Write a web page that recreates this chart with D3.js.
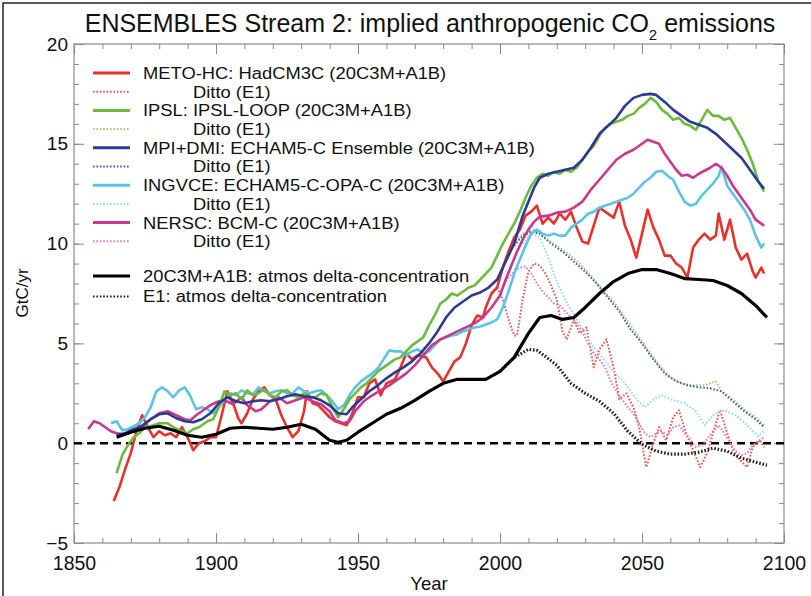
<!DOCTYPE html>
<html>
<head>
<meta charset="utf-8">
<script src="https://cdn.jsdelivr.net/npm/d3@7"></script>
<style>
  body { margin: 0; background: #fff; }
  svg text { font-family: "Liberation Sans", Arial, Helvetica, sans-serif; fill: #111; }
</style>
</head>
<body>
<div id="chart"></div>
<script>
// values: [year, GtC/yr]
const metoA1B = [[1864,-2.9],[1866,-2.2],[1868,-1.3],[1870,-0.5],[1872,0.6],[1874,1.4],[1876,0.8],[1878,0.3],[1880,0.6],[1882,0.4],[1884,0.5],[1886,0.3],[1888,0.8],[1890,0.3],[1892,-0.35],[1894,0.0],[1896,0.1],[1898,0.3],[1900,0.3],[1902,1.4],[1904,2.6],[1906,2.0],[1908,1.2],[1909,1.0],[1911,1.5],[1913,2.2],[1915,2.6],[1917,2.8],[1919,2.4],[1921,2.2],[1923,1.4],[1925,0.8],[1927,0.3],[1929,0.6],[1931,1.6],[1932,2.6],[1934,2.0],[1936,1.9],[1938,1.6],[1940,1.3],[1942,1.1],[1944,1.0],[1946,0.9],[1948,1.5],[1950,2.3],[1952,2.3],[1954,3.0],[1956,3.2],[1958,2.4],[1960,3.0],[1963,3.2],[1965,3.8],[1967,4.5],[1969,4.2],[1971,4.4],[1974,4.3],[1976,3.8],[1978,3.5],[1980,3.1],[1982,3.6],[1984,4.1],[1986,4.3],[1988,5.0],[1990,5.9],[1992,6.4],[1994,6.3],[1995,6.8],[1997,7.5],[1999,7.8],[2001,8.8],[2003,9.6],[2005,10.3],[2007,10.7],[2009,11.4],[2011,11.6],[2013,11.9],[2015,11.0],[2017,11.3],[2019,11.0],[2021,11.5],[2023,11.2],[2025,11.6],[2027,10.8],[2029,10.1],[2031,10.0],[2033,10.9],[2035,11.8],[2037,11.6],[2040,11.3],[2042,12.1],[2044,10.9],[2046,10.2],[2048,9.3],[2050,10.5],[2052,11.7],[2054,10.8],[2056,10.2],[2058,9.4],[2060,9.4],[2062,9.0],[2064,8.8],[2066,8.3],[2068,9.8],[2070,10.2],[2072,10.5],[2074,10.2],[2076,10.4],[2077,11.5],[2079,10.2],[2081,11.2],[2083,9.8],[2085,9.2],[2087,9.5],[2089,8.6],[2090,8.3],[2092,8.8],[2093,8.5]];
const metoE1 = [[1999,7.8],[2001,7.2],[2003,6.2],[2005,5.4],[2006,5.4],[2008,7.2],[2010,8.6],[2012,9.0],[2014,8.9],[2016,8.5],[2018,7.9],[2020,7.2],[2022,5.6],[2023.5,5.2],[2026,6.2],[2028,5.5],[2030.5,5.8],[2033,3.8],[2035,4.7],[2037.5,5.2],[2040,3.8],[2042,2.2],[2044.5,2.5],[2047,1.8],[2049,0.8],[2051.5,-1.2],[2054,0.0],[2056,0.8],[2058.5,0.15],[2061,1.3],[2063,1.65],[2065.5,0.5],[2068,-0.35],[2070.5,-1.2],[2073,-0.5],[2075,0.5],[2077.5,1.65],[2080,0.5],[2082,-0.35],[2084.5,-0.85],[2087,-1.2],[2089,-0.2],[2091.5,0.15],[2093,-0.2]];
const ipslA1B = [[1865,-1.5],[1867,-0.6],[1869,-0.1],[1871,0.3],[1873,0.5],[1875,0.8],[1878,0.9],[1880,1.0],[1883,1.0],[1885,0.8],[1887,0.65],[1890,0.5],[1892,0.7],[1894,0.8],[1897,1.1],[1899,1.2],[1901,1.8],[1903,2.6],[1905,2.4],[1907,2.5],[1909,2.2],[1911,2.65],[1913,2.4],[1915,2.5],[1917,2.7],[1919,2.4],[1921,2.3],[1923,2.6],[1925,2.65],[1927,2.4],[1929,2.3],[1931,2.5],[1933,2.3],[1935,2.3],[1937,2.5],[1939,2.4],[1941,1.8],[1943,1.3],[1945,1.7],[1947,2.2],[1949,2.5],[1951,2.8],[1953,3.0],[1955,3.3],[1957,3.6],[1959,3.8],[1961,4.0],[1963,4.2],[1965,4.3],[1967,4.6],[1969,4.9],[1971,5.1],[1973,5.3],[1975,5.9],[1977,6.4],[1979,7.0],[1981,7.2],[1983,7.5],[1985,7.4],[1987,7.6],[1989,7.8],[1991,7.9],[1993,8.2],[1995,8.5],[1997,8.8],[1999,9.4],[2001,10.0],[2003,10.5],[2005,11.0],[2007,11.6],[2009,12.3],[2011,12.9],[2013,13.3],[2015,13.5],[2017,13.4],[2019,13.6],[2021,13.5],[2023,13.7],[2025,13.6],[2027,13.8],[2029,14.2],[2031,14.6],[2033,14.9],[2035,15.4],[2037,15.8],[2039,16.0],[2041,16.1],[2043,16.2],[2045,16.4],[2047,16.5],[2049,16.8],[2051,17.0],[2053,17.3],[2055,17.1],[2057,16.7],[2059,16.5],[2061,16.2],[2063,16.3],[2065,16.0],[2067,15.9],[2069,15.7],[2071,16.2],[2073,16.7],[2075,16.4],[2077,16.4],[2079,16.2],[2081,16.3],[2083,15.8],[2085,15.3],[2087,14.7],[2089,14.0],[2091,13.1],[2093,12.6]];
const ipslE1 = [[2004,9.9],[2008,10.5],[2012,10.7],[2016,10.3],[2020,9.9],[2024,9.5],[2028,9.0],[2032,8.4],[2036,7.7],[2040,7.1],[2044,6.3],[2048,5.5],[2052,4.7],[2056,3.9],[2060,3.3],[2064,3.0],[2068,2.9],[2072,2.9],[2076,3.1],[2078,2.6],[2082,2.2],[2086,1.7],[2090,1.3],[2093,0.9]];
const mpiA1B = [[1865,0.4],[1868,0.5],[1871,0.7],[1874,0.85],[1877,1.2],[1880,1.45],[1883,1.5],[1886,1.25],[1889,1.1],[1892,1.05],[1895,1.2],[1898,1.5],[1901,2.0],[1904,2.3],[1907,2.1],[1910,2.0],[1913,2.1],[1916,2.15],[1919,2.1],[1922,2.2],[1925,2.35],[1928,2.45],[1931,2.35],[1934,2.3],[1937,2.15],[1940,1.9],[1943,1.5],[1946,1.45],[1948,1.8],[1951,2.2],[1954,2.6],[1957,2.9],[1960,3.25],[1963,3.55],[1966,3.8],[1969,4.1],[1972,4.5],[1975,5.0],[1978,5.6],[1981,6.3],[1984,6.8],[1987,7.1],[1990,7.4],[1993,7.55],[1996,7.8],[1999,8.2],[2002,9.1],[2005,10.0],[2008,11.4],[2010,12.1],[2012,12.8],[2014,13.3],[2017,13.5],[2020,13.6],[2023,13.7],[2026,13.8],[2029,14.2],[2032,14.8],[2035,15.5],[2038,15.9],[2041,16.3],[2044,16.9],[2047,17.3],[2050,17.45],[2053,17.5],[2055,17.45],[2058,17.1],[2061,16.7],[2064,16.4],[2067,16.1],[2070,15.95],[2073,15.8],[2076,15.5],[2079,15.1],[2082,14.7],[2085,14.3],[2088,13.7],[2091,13.1],[2093,12.75]];
const mpiE1 = [[2005,9.9],[2008,10.4],[2011,10.6],[2014,10.5],[2018,10.0],[2022,9.6],[2026,9.1],[2030,8.6],[2034,8.0],[2038,7.3],[2042,6.6],[2046,5.7],[2050,5.0],[2054,4.2],[2058,3.5],[2062,3.1],[2066,2.9],[2070,2.8],[2074,2.75],[2078,2.6],[2082,2.1],[2086,1.6],[2090,1.2],[2093,0.8]];
const ingvA1B = [[1863,1.0],[1865,1.1],[1867,0.65],[1869,0.7],[1871,0.85],[1873,1.0],[1875,1.3],[1877,1.8],[1879,2.6],[1881,2.8],[1883,2.6],[1885,2.3],[1887,2.65],[1889,2.8],[1891,2.35],[1893,1.7],[1895,1.8],[1897,1.7],[1899,1.5],[1901,1.8],[1903,2.15],[1905,2.5],[1907,2.4],[1909,2.65],[1911,2.5],[1913,2.45],[1915,2.8],[1917,2.6],[1919,2.5],[1921,2.6],[1923,2.65],[1925,2.5],[1927,2.5],[1929,2.8],[1931,2.6],[1933,2.5],[1935,2.6],[1937,2.65],[1939,2.4],[1941,2.1],[1943,1.7],[1945,1.9],[1947,2.4],[1949,2.8],[1951,3.1],[1953,3.3],[1955,3.5],[1957,3.75],[1959,4.2],[1961,4.65],[1963,4.6],[1965,4.6],[1967,4.4],[1969,4.6],[1971,4.7],[1973,4.5],[1975,4.6],[1977,4.9],[1979,5.2],[1981,5.3],[1983,5.4],[1985,5.45],[1987,5.6],[1989,5.7],[1991,5.8],[1993,5.85],[1995,5.95],[1997,6.05],[1999,6.2],[2001,6.8],[2003,7.6],[2005,8.5],[2007,9.2],[2009,9.9],[2011,10.5],[2013,10.7],[2015,10.5],[2017,10.4],[2019,10.5],[2021,10.4],[2023,10.4],[2025,10.8],[2027,11.0],[2029,11.2],[2031,11.5],[2033,11.6],[2035,11.8],[2037,11.9],[2039,12.0],[2041,12.1],[2043,12.2],[2045,12.3],[2047,12.5],[2049,12.8],[2051,13.1],[2053,13.3],[2055,13.6],[2057,13.65],[2059,13.4],[2061,13.2],[2063,12.6],[2065,12.1],[2067,11.9],[2069,12.0],[2071,12.4],[2073,12.7],[2075,13.0],[2077,13.4],[2078,13.85],[2080,12.9],[2082,12.5],[2084,12.1],[2086,11.7],[2088,11.2],[2090,10.4],[2092,9.8],[2093,10.0]];
const ingvE1 = [[2008,10.0],[2011,10.5],[2014,10.3],[2017,9.3],[2020,8.1],[2024,6.9],[2028,6.0],[2032,5.0],[2036,4.3],[2040,3.6],[2044,3.0],[2048,2.2],[2051,1.8],[2054,2.2],[2057,2.4],[2061,2.15],[2065,2.0],[2069,1.6],[2072,0.9],[2075,1.4],[2079,1.65],[2083,1.4],[2087,0.9],[2091,0.35],[2093,0.6]];
const nerscA1B = [[1855,0.7],[1857,1.1],[1859,1.0],[1861,0.8],[1863,0.6],[1865,0.5],[1868,0.45],[1871,0.6],[1874,0.9],[1877,1.2],[1880,1.5],[1883,1.6],[1886,1.4],[1889,1.2],[1891,1.15],[1893,1.4],[1895,1.6],[1898,1.9],[1901,2.1],[1903,2.15],[1906,1.95],[1909,2.3],[1911,1.9],[1914,1.6],[1916,1.7],[1919,2.1],[1922,2.3],[1925,2.0],[1928,2.15],[1931,2.3],[1934,2.1],[1937,1.95],[1940,1.6],[1942,1.15],[1945,1.0],[1947,1.1],[1949,1.6],[1952,2.1],[1955,2.4],[1958,2.65],[1961,2.9],[1964,3.2],[1967,3.5],[1970,3.9],[1973,4.4],[1976,4.9],[1979,5.2],[1982,5.4],[1985,5.6],[1988,5.8],[1991,6.0],[1994,6.3],[1997,6.8],[2000,7.4],[2002,8.2],[2004,8.9],[2006,9.6],[2008,10.2],[2010,10.7],[2012,11.1],[2014,11.35],[2017,11.4],[2020,11.55],[2023,11.6],[2026,11.8],[2029,12.1],[2032,12.7],[2035,13.2],[2038,13.7],[2041,14.2],[2044,14.5],[2047,14.7],[2050,15.0],[2052,15.2],[2054,15.1],[2056,15.0],[2058,14.5],[2060,14.1],[2062,13.7],[2064,13.4],[2066,13.45],[2068,13.3],[2070,13.5],[2072,13.65],[2074,13.8],[2076,14.0],[2078,13.8],[2080,13.4],[2082,12.9],[2084,12.5],[2086,12.1],[2088,11.7],[2090,11.2],[2092,11.0],[2093,10.9]];
const nerscE1 = [[2001,7.8],[2003,8.3],[2005,8.6],[2007,8.8],[2009,8.85],[2011,8.5],[2013,8.0],[2015,7.6],[2017,7.3],[2019,7.0],[2021,6.9],[2023,6.6],[2025,6.3],[2027,6.0],[2029,5.6],[2031,5.0],[2033,4.5],[2035,4.2],[2037,3.8],[2039,3.1],[2041,2.6],[2043,2.2],[2045,1.8],[2047,1.5],[2049,1.0],[2051,0.5],[2053,0.3],[2055,0.5],[2057,0.6],[2059,0.4],[2061,0.8],[2063,0.9],[2065,0.5],[2067,0.2],[2069,-0.2],[2071,-0.1],[2073,0.2],[2075,0.6],[2077,0.9],[2079,0.5],[2081,0.0],[2083,-0.4],[2085,-0.6],[2087,-0.5],[2089,-0.1],[2091,0.1],[2093,0.3]];
const atmosA1B = [[1865,0.3],[1870,0.55],[1875,0.75],[1880,0.85],[1885,0.65],[1890,0.4],[1895,0.3],[1900,0.45],[1905,0.75],[1910,0.8],[1915,0.75],[1920,0.7],[1925,0.8],[1930,0.95],[1935,0.7],[1940,0.15],[1943,0.05],[1946,0.15],[1950,0.55],[1955,1.0],[1960,1.45],[1965,1.75],[1970,2.15],[1975,2.6],[1980,3.0],[1985,3.2],[1990,3.2],[1995,3.2],[2000,3.6],[2005,4.3],[2010,5.5],[2014,6.3],[2018,6.4],[2022,6.2],[2026,6.3],[2030,6.8],[2035,7.5],[2040,8.1],[2045,8.5],[2050,8.7],[2055,8.7],[2060,8.5],[2065,8.25],[2070,8.2],[2075,8.15],[2080,7.9],[2085,7.5],[2090,6.9],[2094,6.3]];
const atmosE1 = [[2000,3.6],[2005,4.3],[2010,4.7],[2013,4.65],[2016,4.35],[2020,3.9],[2025,3.0],[2030,2.5],[2035,2.1],[2040,1.5],[2045,0.6],[2050,-0.05],[2055,-0.4],[2060,-0.55],[2065,-0.55],[2070,-0.45],[2075,-0.25],[2080,-0.4],[2085,-0.75],[2090,-0.95],[2094,-1.1]];

const xTicks = [1850, 1900, 1950, 2000, 2050, 2100];
const yTicks = [-5, 0, 5, 10, 15, 20];

const legendLabels = [
  "METO-HC: HadCM3C (20C3M+A1B)", "Ditto (E1)",
  "IPSL: IPSL-LOOP (20C3M+A1B)", "Ditto (E1)",
  "MPI+DMI: ECHAM5-C Ensemble (20C3M+A1B)", "Ditto (E1)",
  "INGVCE: ECHAM5-C-OPA-C (20C3M+A1B)", "Ditto (E1)",
  "NERSC: BCM-C (20C3M+A1B)", "Ditto (E1)",
  "20C3M+A1B: atmos delta-concentration", "E1: atmos delta-concentration"
];

const series = [
  {data: metoA1B,  color: "#e5322b", dotted: false},
  {data: metoE1,   color: "#e8564f", dotted: true},
  {data: ipslA1B,  color: "#6cbb3c", dotted: false},
  {data: ipslE1,   color: "#9ed07a", dotted: true},
  {data: mpiA1B,   color: "#2b3a94", dotted: false},
  {data: mpiE1,    color: "#4c5aa8", dotted: true},
  {data: ingvA1B,  color: "#5cc3e6", dotted: false},
  {data: ingvE1,   color: "#9ad8ef", dotted: true},
  {data: nerscA1B, color: "#c8388f", dotted: false},
  {data: nerscE1,  color: "#e27bb5", dotted: true},
  {data: atmosA1B, color: "#000000", dotted: false},
  {data: atmosE1,  color: "#222222", dotted: true}
];

const W = 811, H = 596;
const plot = {left: 74, right: 784, top: 44, bottom: 543};

const x = d3.scaleLinear().domain([1850, 2100]).range([plot.left, plot.right]);
const y = d3.scaleLinear().domain([-5, 20]).range([plot.bottom, plot.top]);

const svg = d3.select("#chart").append("svg")
  .attr("width", W).attr("height", H);

svg.append("rect").attr("width", W).attr("height", H).attr("fill", "#fff");

// outer picture border (left/top visible)
svg.append("rect")
  .attr("x", 3).attr("y", 3).attr("width", 900).attr("height", 700)
  .attr("fill", "none").attr("stroke", "#222").attr("stroke-width", 1.5);

// title
const title = svg.append("text")
  .attr("x", 430).attr("y", 32)
  .attr("text-anchor", "middle")
  .style("font-size", "25px");
title.append("tspan").text("ENSEMBLES Stream 2: implied anthropogenic CO");
title.append("tspan").text("2").style("font-size", "15px").attr("dy", 8);
title.append("tspan").text(" emissions").attr("dy", -8);

// axes
const gray = "#8a8a8a";
const minorX = d3.range(1850, 2101, 10);
const minorY = d3.range(-5, 21, 1);

function styleAxis(g, size) {
  g.select(".domain").remove();
  g.selectAll(".tick line").attr("stroke", gray);
  g.selectAll(".tick text").style("font-size", (size || 19) + "px").attr("fill", "#111")
    .style("font-family", '"Liberation Sans", Arial, sans-serif');
}

svg.append("g").attr("transform", `translate(0,${plot.bottom})`)
  .call(d3.axisBottom(x).tickValues(minorX).tickSize(-5).tickFormat(""))
  .call(styleAxis);
svg.append("g").attr("transform", `translate(0,${plot.bottom})`)
  .call(d3.axisBottom(x).tickValues(xTicks).tickSize(-10).tickPadding(13).tickFormat(d3.format("d")))
  .call(styleAxis, 19.5);
svg.append("g").attr("transform", `translate(0,${plot.top})`)
  .call(d3.axisTop(x).tickValues(minorX).tickSize(-5).tickFormat(""))
  .call(styleAxis);
svg.append("g").attr("transform", `translate(0,${plot.top})`)
  .call(d3.axisTop(x).tickValues(xTicks).tickSize(-10).tickFormat(""))
  .call(styleAxis);

svg.append("g").attr("transform", `translate(${plot.left},0)`)
  .call(d3.axisLeft(y).tickValues(minorY).tickSize(-5).tickFormat(""))
  .call(styleAxis);
svg.append("g").attr("transform", `translate(${plot.left},0)`)
  .call(d3.axisLeft(y).tickValues(yTicks).tickSize(-10).tickPadding(6).tickFormat(d3.format("d")))
  .call(styleAxis, 19);
svg.append("g").attr("transform", `translate(${plot.right},0)`)
  .call(d3.axisRight(y).tickValues(minorY).tickSize(-5).tickFormat(""))
  .call(styleAxis);
svg.append("g").attr("transform", `translate(${plot.right},0)`)
  .call(d3.axisRight(y).tickValues(yTicks).tickSize(-10).tickFormat(""))
  .call(styleAxis);

svg.append("rect")
  .attr("x", plot.left).attr("y", plot.top)
  .attr("width", plot.right - plot.left).attr("height", plot.bottom - plot.top)
  .attr("fill", "none").attr("stroke", gray).attr("stroke-width", 1.2);

// axis titles
svg.append("text")
  .attr("x", 429).attr("y", 590)
  .attr("text-anchor", "middle").style("font-size", "18.5px")
  .text("Year");
svg.append("text")
  .attr("transform", "translate(28,293) rotate(-90)")
  .attr("text-anchor", "middle").style("font-size", "17px")
  .text("GtC/yr");

// lines
svg.append("clipPath").attr("id", "clip").append("rect")
  .attr("x", plot.left).attr("y", plot.top)
  .attr("width", plot.right - plot.left).attr("height", plot.bottom - plot.top);

const gLines = svg.append("g").attr("clip-path", "url(#clip)");
const line = d3.line().x(d => x(d[0])).y(d => y(d[1]));

const drawOrder = [1, 3, 5, 7, 9, 11, 0, 6, 8, 2, 4, 10];

// zero line
gLines.append("line")
  .attr("x1", x(1850)).attr("x2", x(2100))
  .attr("y1", y(0)).attr("y2", y(0))
  .attr("stroke", "#000").attr("stroke-width", 2.6)
  .attr("stroke-dasharray", "8,5");

drawOrder.forEach(i => {
  const s = series[i];
  const black = i >= 10;
  gLines.append("path")
    .datum(s.data)
    .attr("d", line)
    .attr("fill", "none")
    .attr("stroke", s.color)
    .attr("stroke-width", black ? 3.2 : (s.dotted ? 2 : 2.6))
    .attr("stroke-linejoin", "round")
    .attr("stroke-dasharray", s.dotted ? "1.6,1.8" : null);
});

// legend: rows are tight, so a slightly smaller font is widened to the original text width
const legend = svg.append("g");
legendLabels.forEach((label, i) => {
  const s = series[i];
  const ly = i < 10 ? 73 + i * 18.7 : 276 + (i - 10) * 20.5;
  const ditto = label.startsWith("Ditto");
  legend.append("line")
    .attr("x1", 93).attr("x2", 130).attr("y1", ly).attr("y2", ly)
    .attr("stroke", s.color)
    .attr("stroke-width", s.dotted ? 2 : 3)
    .attr("stroke-dasharray", s.dotted ? "1.6,1.8" : null);
  legend.append("text")
    .attr("transform", `translate(${ditto ? 193 : 143},${ly}) scale(1.12,1)`)
    .attr("dy", "0.36em")
    .style("font-size", "16.4px")
    .text(label);
});
</script>
</body>
</html>
